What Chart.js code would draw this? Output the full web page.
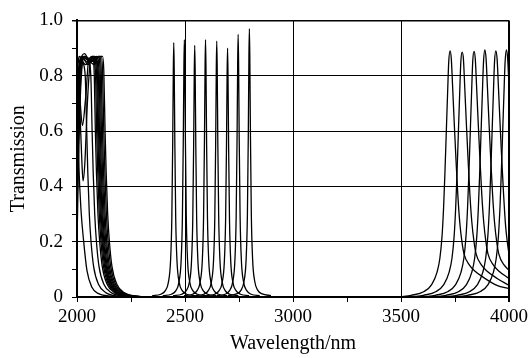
<!DOCTYPE html>
<html>
<head>
<meta charset="utf-8">
<script src="https://cdn.jsdelivr.net/npm/chart.js@4/dist/chart.umd.min.js"></script>
<style>
  body { margin: 0; background: #fff; }
</style>
</head>
<body>
<canvas id="chart" width="532" height="358"></canvas>
<script>
// axis ticks
const xTicks = [2000, 2500, 3000, 3500, 4000];
const yTicks = [0, 0.2, 0.4, 0.6, 0.8, 1.0];

// left group: band edges near 2000-2150 nm  [wavelength nm, transmission]
const edge1 = [[2000,0.75],[2004,0.62],[2008,0.49],[2018,0.32],[2031,0.2],[2046,0.096],[2069,0.035],[2100,0.012],[2160,0.003],[2250,0]];
const edge2 = [[2000,0.82],[2010,0.87],[2025,0.85],[2038,0.8],[2045,0.6],[2050,0.45],[2057,0.3],[2065,0.2],[2077,0.11],[2100,0.045],[2135,0.015],[2195,0.003],[2260,0]];
const edge3 = [[2000,0.86],[2012,0.7],[2022,0.5],[2028,0.42],[2036,0.48],[2048,0.7],[2060,0.84],[2072,0.87],[2080,0.8],[2085,0.6],[2090,0.45],[2097,0.3],[2105,0.2],[2117,0.11],[2140,0.045],[2175,0.015],[2235,0.003],[2300,0]];
const edge4 = [[2000,0.7],[2008,0.82],[2018,0.87],[2045,0.85],[2070,0.87],[2085,0.82],[2091,0.6],[2096,0.45],[2103,0.3],[2111,0.2],[2123,0.11],[2146,0.045],[2181,0.015],[2241,0.003],[2310,0]];
const edge5 = [[2000,0.3],[2006,0.55],[2014,0.8],[2025,0.87],[2050,0.84],[2075,0.87],[2090,0.82],[2096,0.6],[2101,0.45],[2108,0.3],[2116,0.2],[2128,0.11],[2151,0.045],[2186,0.015],[2246,0.003],[2316,0]];
const edge6 = [[2000,0.5],[2008,0.72],[2018,0.86],[2035,0.88],[2060,0.85],[2082,0.87],[2094,0.82],[2100,0.6],[2105,0.45],[2112,0.3],[2120,0.2],[2132,0.11],[2155,0.045],[2190,0.015],[2250,0.003],[2320,0]];
const edge7 = [[2000,0.84],[2015,0.7],[2025,0.62],[2040,0.72],[2055,0.86],[2080,0.87],[2098,0.82],[2104,0.6],[2109,0.45],[2116,0.3],[2124,0.2],[2136,0.11],[2159,0.045],[2194,0.015],[2254,0.003],[2324,0]];
const edge8 = [[2000,0.2],[2005,0.4],[2012,0.65],[2022,0.82],[2035,0.87],[2065,0.86],[2090,0.87],[2102,0.82],[2108,0.6],[2113,0.45],[2120,0.3],[2128,0.2],[2140,0.11],[2163,0.045],[2198,0.015],[2258,0.003],[2328,0]];
const edge9 = [[2000,0.6],[2010,0.78],[2025,0.87],[2050,0.86],[2080,0.84],[2098,0.87],[2107,0.82],[2113,0.6],[2118,0.45],[2125,0.3],[2133,0.2],[2145,0.11],[2168,0.045],[2203,0.015],[2263,0.003],[2333,0]];
const edge10 = [[2000,0.35],[2008,0.6],[2018,0.8],[2030,0.87],[2060,0.85],[2090,0.86],[2106,0.87],[2112,0.82],[2118,0.6],[2123,0.45],[2130,0.3],[2138,0.2],[2150,0.11],[2173,0.045],[2208,0.015],[2268,0.003],[2338,0]];
const edge11 = [[2000,0.78],[2015,0.86],[2040,0.84],[2070,0.87],[2095,0.85],[2112,0.87],[2118,0.82],[2124,0.6],[2129,0.45],[2136,0.3],[2144,0.2],[2156,0.11],[2179,0.045],[2214,0.015],[2274,0.003],[2344,0]];
const edge12 = [[2000,0.55],[2010,0.8],[2025,0.87],[2060,0.85],[2100,0.87],[2118,0.87],[2124,0.82],[2130,0.6],[2135,0.45],[2142,0.3],[2150,0.2],[2162,0.11],[2185,0.045],[2220,0.015],[2280,0.003],[2350,0]];
const edge13 = [[2000,0.87],[2015,0.84],[2035,0.87],[2055,0.85],[2064,0.8],[2070,0.6],[2075,0.45],[2082,0.3],[2090,0.2],[2102,0.11],[2125,0.045],[2160,0.015],[2220,0.003],[2290,0]];

// middle group: narrow peaks 2450-2800 nm
const peak2448 = [[2348,.005],[2388,.01],[2408,.022],[2423,.053],[2433,.129],[2439,.285],[2443,.552],[2446,.828],[2448,.92],[2450,.828],[2453,.552],[2457,.285],[2463,.129],[2473,.053],[2488,.022],[2508,.01],[2548,.005]];
const peak2497 = [[2397,.005],[2437,.01],[2457,.022],[2472,.054],[2482,.13],[2488,.288],[2492,.558],[2495,.837],[2497,.93],[2499,.837],[2502,.558],[2506,.288],[2512,.13],[2522,.054],[2537,.022],[2557,.01],[2597,.005]];
const peak2545 = [[2445,.005],[2485,.01],[2505,.022],[2520,.053],[2530,.127],[2536,.282],[2540,.546],[2543,.819],[2545,.91],[2547,.819],[2550,.546],[2554,.282],[2560,.127],[2570,.053],[2585,.022],[2605,.01],[2645,.005]];
const peak2595 = [[2495,.005],[2535,.01],[2555,.022],[2570,.054],[2580,.13],[2586,.288],[2590,.558],[2593,.837],[2595,.93],[2597,.837],[2600,.558],[2604,.288],[2610,.13],[2620,.054],[2635,.022],[2655,.01],[2695,.005]];
const peak2647 = [[2547,.005],[2587,.01],[2607,.022],[2622,.054],[2632,.13],[2638,.287],[2642,.555],[2645,.833],[2647,.925],[2649,.833],[2652,.555],[2656,.287],[2662,.13],[2672,.054],[2687,.022],[2707,.01],[2747,.005]];
const peak2697 = [[2597,.005],[2637,.01],[2657,.022],[2672,.052],[2682,.126],[2688,.279],[2692,.54],[2695,.81],[2697,.9],[2699,.81],[2702,.54],[2706,.279],[2712,.126],[2722,.052],[2737,.022],[2757,.01],[2797,.005]];
const peak2746 = [[2646,.005],[2686,.01],[2706,.023],[2721,.055],[2731,.133],[2737,.295],[2741,.57],[2744,.855],[2746,.95],[2748,.855],[2751,.57],[2755,.295],[2761,.133],[2771,.055],[2786,.023],[2806,.01],[2846,.005]];
const peak2798 = [[2698,.005],[2738,.011],[2758,.023],[2773,.056],[2783,.136],[2789,.301],[2793,.582],[2796,.873],[2798,.97],[2800,.873],[2803,.582],[2807,.301],[2813,.136],[2823,.056],[2838,.023],[2858,.011],[2898,.005]];

// right group: wider peaks 3700-4000 nm
const peak3727 = [[3497,0],[3547,.006],[3607,.02],[3642,.045],[3667,.09],[3680,.14],[3690,.22],[3697,.32],[3703,.44],[3709,.58],[3715,.72],[3721,.85],[3727,.89],[3733,.86],[3739,.76],[3747,.62],[3755,.49],[3763,.37],[3772,.27],[3782,.2],[3792,.155],[3817,.115],[3840,.095],[3889,.067],[3944,.042],[4000,.03]];
const peak3783 = [[3553,0],[3603,.006],[3663,.02],[3698,.045],[3723,.09],[3736,.14],[3746,.22],[3753,.32],[3759,.44],[3765,.58],[3771,.72],[3777,.85],[3783,.885],[3789,.86],[3795,.76],[3803,.62],[3811,.49],[3819,.37],[3828,.27],[3838,.2],[3848,.155],[3873,.115],[3896,.095],[3945,.067],[4000,.042]];
const peak3838 = [[3608,0],[3658,.006],[3718,.02],[3753,.045],[3778,.09],[3791,.14],[3801,.22],[3808,.32],[3814,.44],[3820,.58],[3826,.72],[3832,.85],[3838,.888],[3844,.86],[3850,.76],[3858,.62],[3866,.49],[3874,.37],[3883,.27],[3893,.2],[3903,.155],[3928,.115],[3951,.095],[4000,.067]];
const peak3888 = [[3658,0],[3708,.006],[3768,.02],[3803,.045],[3828,.09],[3841,.14],[3851,.22],[3858,.32],[3864,.44],[3870,.58],[3876,.72],[3882,.85],[3888,.893],[3894,.86],[3900,.76],[3908,.62],[3916,.49],[3924,.37],[3933,.27],[3943,.2],[3953,.155],[3978,.115],[4000,.097]];
const peak3939 = [[3709,0],[3759,.006],[3819,.02],[3854,.045],[3879,.09],[3892,.14],[3902,.22],[3909,.32],[3915,.44],[3921,.58],[3927,.72],[3933,.85],[3939,.89],[3945,.86],[3951,.76],[3959,.62],[3967,.49],[3975,.37],[3984,.26],[3992,.2],[4000,.155]];
const peak3988 = [[3758,0],[3808,.006],[3868,.02],[3903,.045],[3928,.09],[3941,.14],[3951,.22],[3958,.32],[3964,.44],[3970,.58],[3976,.72],[3982,.85],[3988,.893],[3994,.86],[4000,.76]];

const curves = [
  edge1, edge2, edge3, edge4, edge5, edge6, edge7, edge8, edge9, edge10, edge11, edge12, edge13,
  peak2448, peak2497, peak2545, peak2595, peak2647, peak2697, peak2746, peak2798,
  peak3727, peak3783, peak3838, peak3888, peak3939, peak3988
];

const serif = 'Liberation Serif, Times New Roman, serif';
const clear = 'rgba(0,0,0,0)';

const ctx = document.getElementById('chart').getContext('2d');
new Chart(ctx, {
  type: 'line',
  data: {
    datasets: curves.map(c => ({
      data: c.map(p => ({ x: p[0], y: p[1] })),
      borderColor: '#000',
      borderWidth: 1.3,
      pointRadius: 0,
      fill: false,
      cubicInterpolationMode: 'monotone'
    }))
  },
  options: {
    responsive: false,
    animation: false,
    layout: { padding: { top: 15, right: 18, left: 0, bottom: 0 } },
    plugins: {
      legend: { display: false },
      tooltip: { enabled: false }
    },
    scales: {
      x: {
        type: 'linear',
        min: 2000,
        max: 4000,
        afterFit: s => { s.height = 61; },
        ticks: {
          stepSize: 250,
          autoSkip: false,
          maxRotation: 0,
          padding: 4,
          color: '#000',
          font: { family: serif, size: 19 },
          callback: v => xTicks.includes(v) ? String(v) : ''
        },
        grid: {
          color: c => (c.tick && xTicks.includes(c.tick.value)) ? '#000' : clear,
          lineWidth: c => (c.tick && c.tick.value === 4000) ? 2 : 1,
          tickColor: '#000',
          tickLength: 5
        },
        border: { color: '#000', width: 2 },
        title: {
          display: true,
          text: 'Wavelength/nm',
          color: '#000',
          font: { family: serif, size: 20 },
          padding: { top: 0, bottom: 2 }
        }
      },
      y: {
        min: 0,
        max: 1,
        afterFit: s => { s.width = 77; },
        ticks: {
          stepSize: 0.1,
          autoSkip: false,
          padding: 9,
          color: '#000',
          font: { family: serif, size: 19 },
          callback: v => {
            const k = Math.round(v * 10);
            if (k % 2) return '';
            return k === 0 ? '0' : (k / 10).toFixed(1);
          }
        },
        grid: {
          color: c => (c.tick && Math.round(c.tick.value * 10) % 2 === 0) ? '#000' : clear,
          lineWidth: c => (c.tick && Math.round(c.tick.value * 10) === 10) ? 1.5 : 1,
          tickColor: '#000',
          tickLength: 5
        },
        border: { color: '#000', width: 2 },
        title: {
          display: true,
          text: 'Transmission',
          color: '#000',
          font: { family: serif, size: 20 },
          padding: { top: 7, bottom: 0 }
        }
      }
    }
  }
});
</script>
</body>
</html>
